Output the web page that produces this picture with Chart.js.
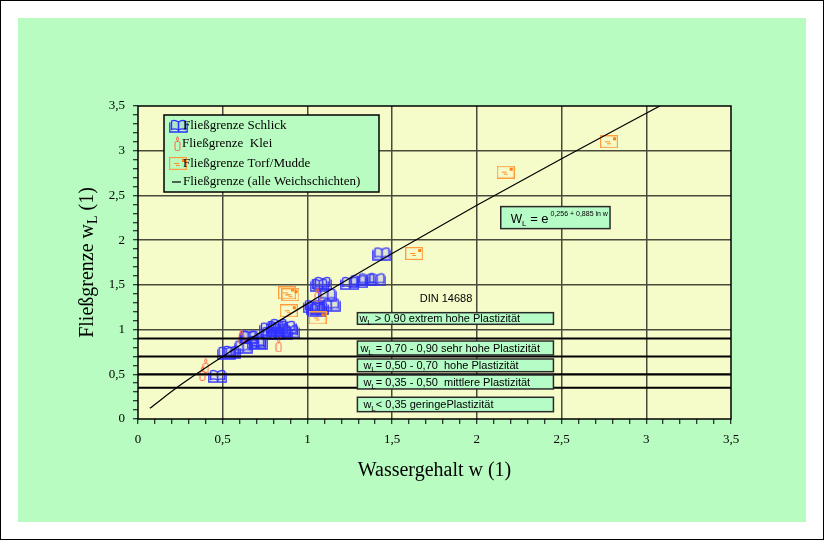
<!DOCTYPE html>
<html>
<head>
<meta charset="utf-8">
<script src="https://cdn.jsdelivr.net/npm/chart.js@4"></script>
<style>
  html, body { margin: 0; padding: 0; background: #fff; }
</style>
</head>
<body>
<canvas id="chart" width="824" height="540"></canvas>
<script>
// values (w, w_L)
const schlickW  = [0.47, 0.52, 0.55, 0.62, 0.65, 0.66, 0.70, 0.71, 0.77, 0.78, 0.81, 0.81, 0.83, 0.84, 0.86, 0.88, 0.90, 1.03, 1.05, 1.06, 1.07, 1.07, 1.09, 1.12, 1.14, 1.25, 1.30, 1.35, 1.41, 1.44];
const schlickWL = [0.48, 0.74, 0.75, 0.81, 0.92, 0.92, 0.86, 0.85, 1.01, 0.96, 1.03, 0.96, 1.05, 1.00, 0.96, 1.03, 0.98, 1.26, 1.24, 1.22, 1.24, 1.50, 1.52, 1.39, 1.28, 1.52, 1.54, 1.56, 1.56, 1.85];
const kleiW  = [0.38, 0.40, 0.61, 0.83, 1.06];
const kleiWL = [0.51, 0.60, 0.92, 0.83, 1.39];
const torfW  = [0.88, 0.90, 0.89, 1.06, 1.63, 2.17, 2.78];
const torfWL = [1.41, 1.39, 1.21, 1.13, 1.85, 2.76, 3.10];
// regression curve, points
const fitW  = [0.07, 0.25, 0.5, 1.0, 1.5, 2.0, 2.5, 3.08];
const fitWL = [0.12, 0.38, 0.70, 1.29, 1.85, 2.39, 2.91, 3.5];
// DIN 14688 plasticity limits
const plastLimits = [0.35, 0.5, 0.7, 0.9];
const tickLabels = [0, 0.5, 1, 1.5, 2, 2.5, 3, 3.5];

const plastTexts = [
  ['> 0,90 extrem hohe Plastizität', ' '],
  ['= 0,70 - 0,90 sehr hohe Plastizität', ' '],
  ['= 0,50 - 0,70  hohe Plastizität', ''],
  ['= 0,35 - 0,50  mittlere Plastizität', ''],
  ['< 0,35 geringePlastizität', '']
];
// box extents in data units: [y top, y bottom, text indent px]
const plastBoxes = [[1.189, 1.059, 2], [0.872, 0.716, 3], [0.671, 0.529, 6], [0.492, 0.336, 6], [0.243, 0.082, 6]];

const toPts = (xs, ys) => xs.map((x, i) => ({ x: x, y: ys[i] }));

function makeBook() {
  const c = document.createElement('canvas');
  c.width = 19; c.height = 14;
  const g = c.getContext('2d');
  g.strokeStyle = '#2f2fff';
  g.fillStyle = 'rgba(110,110,255,0.15)';
  g.lineWidth = 1.3;
  g.beginPath();
  g.moveTo(9.5, 3); g.quadraticCurveTo(6, 0.3, 2.5, 2); g.lineTo(2.5, 10.5); g.quadraticCurveTo(6, 9, 9.5, 11); g.closePath();
  g.moveTo(9.5, 3); g.quadraticCurveTo(13, 0.3, 16.5, 2); g.lineTo(16.5, 10.5); g.quadraticCurveTo(13, 9, 9.5, 11); g.closePath();
  g.fill(); g.stroke();
  g.beginPath();
  g.moveTo(0.8, 3.5); g.lineTo(0.8, 13); g.lineTo(18.2, 13); g.lineTo(18.2, 3.5);
  g.moveTo(9.5, 3); g.lineTo(9.5, 13);
  g.stroke();
  return c;
}

function makeCandle() {
  const c = document.createElement('canvas');
  c.width = 7; c.height = 15;
  const g = c.getContext('2d');
  g.strokeStyle = '#ff6648';
  g.lineWidth = 1;
  g.beginPath();
  g.moveTo(3.5, 0.5); g.quadraticCurveTo(6, 3.5, 3.5, 5); g.quadraticCurveTo(1, 3.5, 3.5, 0.5);
  g.stroke();
  g.beginPath();
  g.roundRect(1, 5.5, 5, 9, 1.5);
  g.stroke();
  return c;
}

function makeEnvelope() {
  const c = document.createElement('canvas');
  c.width = 18; c.height = 13;
  const g = c.getContext('2d');
  g.strokeStyle = '#ff9d3c';
  g.lineWidth = 1.2;
  g.strokeRect(0.6, 0.6, 16.8, 11.8);
  g.fillStyle = '#ff8010';
  g.fillRect(13, 2, 3, 3);
  g.strokeStyle = '#ff9020';
  g.lineWidth = 1;
  g.beginPath();
  g.moveTo(5, 6.5); g.lineTo(10, 6.5);
  g.moveTo(7, 8.5); g.lineTo(11, 8.5);
  g.stroke();
  return c;
}

const bookImg = makeBook();
const candleImg = makeCandle();
const envImg = makeEnvelope();

const isMajor = v => tickLabels.some(t => Math.abs(t - v) < 1e-6);
const fmt = v => {
  const t = tickLabels.find(t => Math.abs(t - v) < 1e-6);
  return t === undefined ? '' : String(t).replace('.', ',');
};
const gridColor = '#4a4a3c';

// draws text runs: [text, fontSize, dy]
function drawRuns(ctx, runs, x, y, family, align) {
  let total = 0;
  runs.forEach(r => { ctx.font = r[1] + 'px ' + family; total += ctx.measureText(r[0]).width; });
  let cx = align === 'center' ? x - total / 2 : x;
  ctx.textAlign = 'left';
  runs.forEach(r => {
    ctx.font = r[1] + 'px ' + family;
    ctx.fillText(r[0], cx, y + r[2]);
    cx += ctx.measureText(r[0]).width;
  });
}

const deco = {
  id: 'deco',
  beforeDraw(chart) {
    const { ctx, chartArea: a } = chart;
    ctx.save();
    ctx.fillStyle = '#fff';
    ctx.fillRect(0, 0, 824, 540);
    ctx.fillStyle = '#b9fcc1';
    ctx.fillRect(18, 18, 788, 504);
    ctx.strokeStyle = '#000';
    ctx.lineWidth = 1;
    ctx.strokeRect(0.5, 0.5, 823, 539);
    ctx.fillStyle = '#f6fcc9';
    ctx.fillRect(a.left, a.top, a.width, a.height);
    ctx.restore();
  },
  afterDatasetsDraw(chart) {
    const { ctx, chartArea: a, scales } = chart;
    const sx = scales.x, sy = scales.y;
    ctx.save();
    ctx.fillStyle = '#000';
    ctx.textBaseline = 'alphabetic';

    // plasticity boxes
    ctx.font = '11px "Liberation Sans"';
    const bx1 = sx.getPixelForValue(1.295), bx2 = sx.getPixelForValue(2.452);
    plastBoxes.forEach((b, i) => {
      const y1 = sy.getPixelForValue(b[0]), y2 = sy.getPixelForValue(b[1]);
      ctx.fillStyle = '#b6fcc6';
      ctx.fillRect(bx1, y1, bx2 - bx1, y2 - y1);
      ctx.strokeStyle = '#2a2a2a';
      ctx.lineWidth = 1.5;
      ctx.strokeRect(bx1, y1, bx2 - bx1, y2 - y1);
      ctx.fillStyle = '#000';
      const base = (y1 + y2) / 2 + 4;
      drawRuns(ctx, [['w', 11, 0], ['L', 8, 3], [plastTexts[i][1] + plastTexts[i][0], 11, 0]], bx1 + b[2], base, '"Liberation Sans"', 'left');
    });
    ctx.font = '11px "Liberation Sans"';
    ctx.textAlign = 'center';
    ctx.textBaseline = 'middle';
    ctx.fillText('DIN 14688', sx.getPixelForValue(1.818), sy.getPixelForValue(1.339));
    ctx.textBaseline = 'alphabetic';

    // formula box
    const fx1 = sx.getPixelForValue(2.141), fx2 = sx.getPixelForValue(2.786);
    const fy1 = sy.getPixelForValue(2.375), fy2 = sy.getPixelForValue(2.129);
    ctx.fillStyle = '#b6fcc6';
    ctx.fillRect(fx1, fy1, fx2 - fx1, fy2 - fy1);
    ctx.strokeStyle = '#2a2a2a';
    ctx.lineWidth = 1.5;
    ctx.strokeRect(fx1, fy1, fx2 - fx1, fy2 - fy1);
    ctx.fillStyle = '#000';
    drawRuns(ctx, [['W', 12, 0], ['L', 8, 3], [' = e', 13, 0], [' 0,256 + 0,885 ln w', 7, -7]], fx1 + 10, fy2 - 6, '"Liberation Sans"', 'left');

    // legend
    const lx = a.left + 26, ly = a.top + 9;
    ctx.fillStyle = '#b9fcc1';
    ctx.fillRect(lx, ly, 215, 77);
    ctx.strokeStyle = '#000';
    ctx.lineWidth = 1.5;
    ctx.strokeRect(lx, ly, 215, 77);
    ctx.drawImage(bookImg, lx + 5, ly + 4);
    ctx.drawImage(candleImg, lx + 10, ly + 21);
    ctx.drawImage(envImg, lx + 5, ly + 42);
    ctx.beginPath();
    ctx.moveTo(lx + 8, ly + 67);
    ctx.lineTo(lx + 17, ly + 67);
    ctx.lineWidth = 1.2;
    ctx.stroke();
    ctx.fillStyle = '#000';
    ctx.font = '13px "Liberation Serif"';
    ctx.textAlign = 'left';
    ctx.textBaseline = 'middle';
    ctx.fillText('Fließgrenze Schlick', lx + 19, ly + 11);
    ctx.fillText('Fließgrenze  Klei', lx + 18, ly + 29);
    ctx.fillText('Fließgrenze Torf/Mudde', lx + 19, ly + 49);
    ctx.fillText('Fließgrenze (alle Weichschichten)', lx + 19, ly + 67);

    // plot frame
    ctx.strokeStyle = '#000';
    ctx.lineWidth = 1.5;
    ctx.strokeRect(a.left, a.top, a.width, a.height);

    // axis titles
    ctx.textBaseline = 'middle';
    drawRuns(ctx, [['Wassergehalt w (1)', 20, 0]], (a.left + a.right) / 2, 471, '"Liberation Serif"', 'center');
    ctx.translate(93, (a.top + a.bottom) / 2);
    ctx.rotate(-Math.PI / 2);
    ctx.textBaseline = 'alphabetic';
    drawRuns(ctx, [['Fließgrenze w', 20, 0], ['L', 14, 4], [' (1)', 20, 0]], 0, 0, '"Liberation Serif"', 'center');
    ctx.restore();
  }
};

const limitSets = plastLimits.map(t => ({
  type: 'scatter',
  data: [{ x: 0, y: t }, { x: 3.5, y: t }],
  showLine: true,
  borderColor: '#000',
  borderWidth: 2,
  pointRadius: 0,
  order: 0
}));

const axisBase = () => ({
  type: 'linear',
  min: 0,
  max: 3.5,
  border: { display: false },
  grid: {
    color: c => (isMajor(c.tick.value) && c.tick.value > 0 && c.tick.value < 3.5) ? gridColor : 'rgba(0,0,0,0)',
    lineWidth: 1.5,
    tickColor: '#000',
    tickWidth: 1,
    tickLength: 5
  },
  ticks: {
    stepSize: 0.1,
    maxTicksLimit: 100,
    autoSkip: false,
    maxRotation: 0,
    padding: 8,
    color: '#000',
    font: { family: 'Liberation Serif', size: 13 },
    callback: v => fmt(v)
  }
});

const xAxis = axisBase();
xAxis.afterFit = s => { s.height = 81; };
const yAxis = axisBase();
yAxis.afterFit = s => { s.width = 138; };

new Chart(document.getElementById('chart'), {
  type: 'scatter',
  data: {
    datasets: [
      {
        label: 'Fließgrenze (alle Weichschichten)',
        data: toPts(fitW, fitWL),
        showLine: true,
        borderColor: '#000',
        borderWidth: 1.2,
        pointRadius: 0,
        cubicInterpolationMode: 'monotone',
        order: 0
      },
      ...limitSets,
      {
        label: 'Fließgrenze Torf/Mudde',
        data: toPts(torfW, torfWL),
        pointStyle: envImg,
        pointRadius: 6,
        order: 1
      },
      {
        label: 'Fließgrenze Klei',
        data: toPts(kleiW, kleiWL),
        pointStyle: candleImg,
        pointRadius: 6,
        order: 2
      },
      {
        label: 'Fließgrenze Schlick',
        data: toPts(schlickW, schlickWL),
        pointStyle: bookImg,
        pointRadius: 6,
        order: 3
      }
    ]
  },
  options: {
    responsive: false,
    animation: false,
    layout: { padding: { left: 0, top: 106, right: 93, bottom: 40 } },
    scales: { x: xAxis, y: yAxis },
    plugins: {
      legend: { display: false },
      tooltip: { enabled: false }
    }
  },
  plugins: [deco]
});
</script>
</body>
</html>
